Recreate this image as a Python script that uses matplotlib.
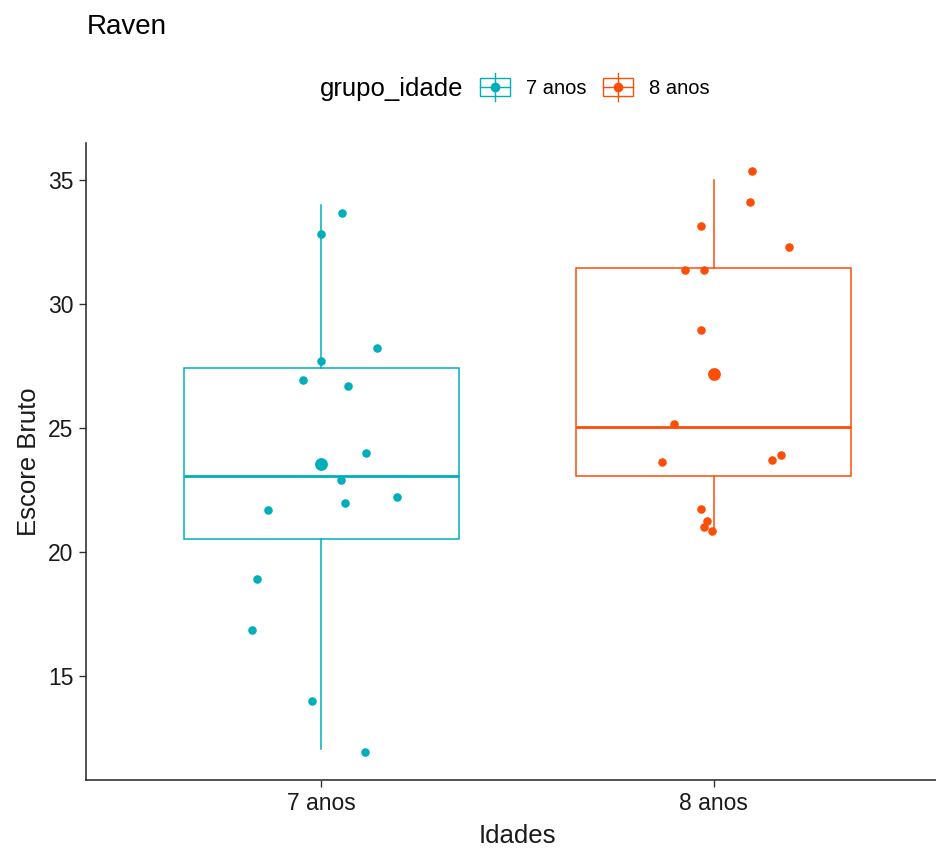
#!/usr/bin/env python3

import matplotlib
matplotlib.use('Agg')
import matplotlib.pyplot as plt
from matplotlib.legend_handler import HandlerBase
from matplotlib.patches import Rectangle
from matplotlib.lines import Line2D

plt.rcParams['font.family'] = ['Liberation Sans', 'DejaVu Sans']

# Raven raw scores by age group
groups = ['7 anos', '8 anos']
colors = ['#00AFBB', '#FC4E07']

# box statistics: lower whisker, Q1, median, Q3, upper whisker
whis_lo = [12.06, 20.84]
q1 = [20.51, 23.05]
median = [23.05, 25.06]
q3 = [27.43, 31.46]
whis_hi = [34.0, 35.0]
means = [23.53, 27.19]

# individual scores (jittered horizontally around the group position)
jit_7 = [0.053, 0.0, 0.0, 0.142, -0.046, 0.069, 0.115, 0.051, 0.193, 0.059,
         -0.137, -0.165, -0.178, -0.023, 0.112]
score_7 = [33.67, 32.83, 27.72, 28.24, 26.95, 26.71, 24.01, 22.89, 22.20, 21.96,
           21.68, 18.90, 16.85, 14.0, 11.94]
jit_8 = [0.099, 0.092, -0.033, 0.191, -0.074, -0.025, -0.033, -0.102, -0.132,
         0.173, 0.148, -0.031, -0.018, -0.025, -0.003]
score_8 = [35.36, 34.11, 33.15, 32.30, 31.38, 31.38, 28.96, 25.18, 23.61,
           23.93, 23.73, 21.72, 21.24, 20.99, 20.84]

jitter = [jit_7, jit_8]
scores = [score_7, score_8]


class BoxKeyHandler(HandlerBase):
    """Legend key: small box with median, whisker and mean dot."""

    def create_artists(self, legend, orig_handle, xdescent, ydescent,
                       width, height, fontsize, trans):
        c = orig_handle
        x0, y0 = -xdescent, -ydescent
        xc, yc = x0 + width / 2, y0 + height / 2
        rect = Rectangle((x0, y0), width, height, facecolor='white',
                         edgecolor=c, lw=1.0, transform=trans)
        hline = Line2D([x0, x0 + width], [yc, yc], color=c, lw=1.0,
                       transform=trans)
        vline = Line2D([xc, xc], [y0 - 0.3 * height, y0 + 1.3 * height],
                       color=c, lw=1.0, transform=trans)
        dot = Line2D([xc], [yc], marker='o', ms=6, color=c, mec=c,
                     transform=trans)
        return [rect, hline, vline, dot]


fig = plt.figure(figsize=(9.36, 8.48), dpi=100)
ax = fig.add_axes([86 / 936, 68 / 848, 863 / 936, 637 / 848])

positions = [1, 2]
for i, pos in enumerate(positions):
    stats = [{'whislo': whis_lo[i], 'q1': q1[i], 'med': median[i],
              'q3': q3[i], 'whishi': whis_hi[i], 'fliers': []}]
    ax.bxp(stats, positions=[pos], widths=0.7, showcaps=False,
           showfliers=False, patch_artist=True,
           boxprops=dict(facecolor='white', edgecolor=colors[i], lw=1.1),
           whiskerprops=dict(color=colors[i], lw=1.1),
           medianprops=dict(color=colors[i], lw=2.0),
           zorder=1)
    xs = [pos + j for j in jitter[i]]
    ax.scatter(xs, scores[i], s=38, color=colors[i], linewidths=0, zorder=3)
    ax.scatter([pos], [means[i]], s=85, color=colors[i], linewidths=0,
               zorder=4)

ax.set_xlim(0.4, 2.6)
ax.set_ylim(10.8, 36.5)
ax.set_xticks(positions)
ax.set_xticklabels(groups)
ax.set_yticks([15, 20, 25, 30, 35])

for side in ['top', 'right']:
    ax.spines[side].set_visible(False)
for side in ['left', 'bottom']:
    ax.spines[side].set_linewidth(1.1)
    ax.spines[side].set_color('#222222')

ax.tick_params(axis='both', length=5, width=1.0, color='#333333',
               labelsize=16.5, labelcolor='#1a1a1a', pad=4)
ax.set_ylabel('Escore Bruto', fontsize=18.5, color='#1a1a1a', labelpad=5)
ax.set_xlabel('Idades', fontsize=18.5, color='#1a1a1a', labelpad=6)

fig.text(87 / 936, 1 - 34 / 848, 'Raven', fontsize=20, color='black',
         va='baseline', ha='left')
fig.text(320 / 936, 1 - 96 / 848, 'grupo_idade', fontsize=18.5, color='black',
         va='baseline', ha='left')

fig.legend(colors, groups, handler_map={str: BoxKeyHandler()},
           loc='center left', bbox_to_anchor=(480 / 936, 1 - 88 / 848),
           ncol=2, frameon=False, fontsize=14.5, handlelength=1.5,
           handleheight=1.0, handletextpad=0.8, columnspacing=0.8,
           borderpad=0, borderaxespad=0)

fig.savefig('out.png', dpi=100)
